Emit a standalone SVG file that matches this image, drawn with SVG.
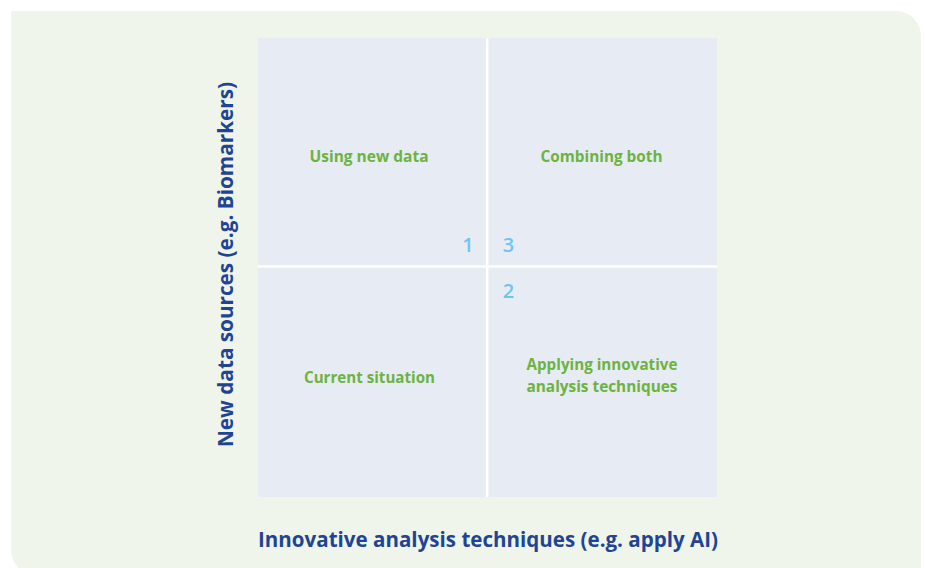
<svg xmlns="http://www.w3.org/2000/svg" width="925" height="568" viewBox="0 0 925 568">
  <style>
    .panel { fill: #eff5ea; }
    .cell { fill: #e7ebf3; }
    .divider { stroke: #ffffff; stroke-width: 2.5; }
    .quad { font-family: "Open Sans", "Liberation Sans", sans-serif; font-weight: 700; font-size: 16px; fill: #6cb33f; text-anchor: middle; }
    .num { font-family: "Open Sans", "Liberation Sans", sans-serif; font-weight: 600; font-size: 20px; fill: #6ec6f0; text-anchor: middle; }
    .axis { font-family: "Open Sans", "Liberation Sans", sans-serif; font-weight: 700; font-size: 21px; fill: #1f4495; text-anchor: middle; }
  </style>

  <!-- background panel: square top-left, rounded top-right and bottom-left -->
  <path class="panel" d="M11 11 H896 A25 25 0 0 1 921 36 V575 H36 A25 25 0 0 1 11 550 Z"/>

  <!-- quadrant field -->
  <g id="grid">
    <rect class="cell" x="258" y="38" width="459" height="459"/>
  </g>

  <g id="connectors">
    <line class="divider" x1="487.2" y1="38" x2="487.2" y2="497"/>
    <line class="divider" x1="258" y1="266.5" x2="717" y2="266.5"/>
  </g>

  <g id="q-top-left">
    <text class="quad" x="369" y="161.5" textLength="119" lengthAdjust="spacingAndGlyphs">Using new data</text>
  </g>
  <g id="q-top-right">
    <text class="quad" x="601.5" y="161.5" textLength="122" lengthAdjust="spacingAndGlyphs">Combining both</text>
  </g>
  <g id="q-bottom-left">
    <text class="quad" x="369.5" y="382.5" textLength="131" lengthAdjust="spacingAndGlyphs">Current situation</text>
  </g>
  <g id="q-bottom-right">
    <text class="quad" x="602" y="369.5" textLength="151" lengthAdjust="spacingAndGlyphs">Applying innovative</text>
    <text class="quad" x="602" y="391.5" textLength="151" lengthAdjust="spacingAndGlyphs">analysis techniques</text>
  </g>

  <g id="numbers">
    <text class="num" x="468" y="251.5">1</text>
    <text class="num" x="508.5" y="251.5">3</text>
    <text class="num" x="508.5" y="297.5">2</text>
  </g>

  <g id="axis-x">
    <text class="axis" x="488" y="546.5" textLength="460" lengthAdjust="spacingAndGlyphs">Innovative analysis techniques (e.g. apply AI)</text>
  </g>
  <g id="axis-y">
    <text class="axis" transform="translate(232.5 264.5) rotate(-90)" x="0" y="0" textLength="365" lengthAdjust="spacingAndGlyphs">New data sources (e.g. Biomarkers)</text>
  </g>
</svg>
